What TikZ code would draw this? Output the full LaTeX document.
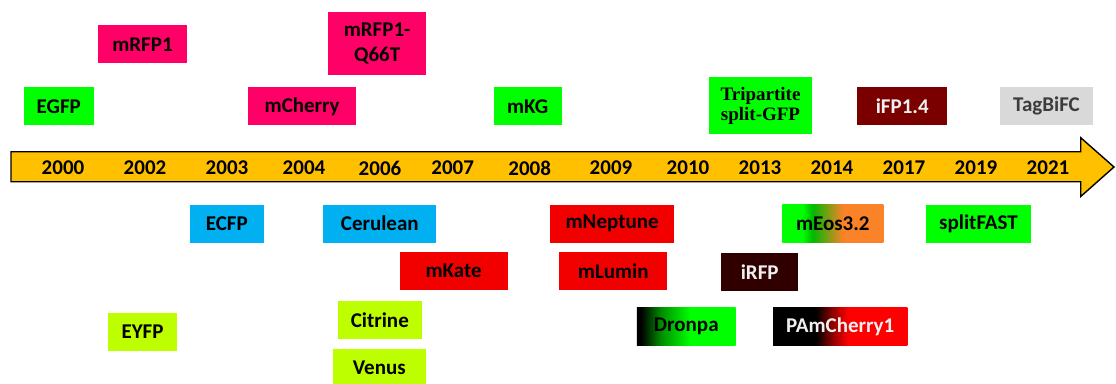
\documentclass[tikz,border=0pt]{standalone}
\usepackage{fontspec}
\setmainfont{Carlito}
\newfontfamily\timesf{Liberation Serif}
\definecolor{fpgreen}{RGB}{0,255,0}
\definecolor{fpdkgreen}{RGB}{0,185,0}
\definecolor{fpmidgreen}{RGB}{0,140,0}
\definecolor{fppink}{RGB}{255,0,102}
\definecolor{fpcyan}{RGB}{0,176,240}
\definecolor{fplime}{RGB}{190,255,0}
\definecolor{fpred}{RGB}{242,0,0}
\definecolor{fppurered}{RGB}{255,0,0}
\definecolor{fpdkred}{RGB}{140,0,0}
\definecolor{fpmaroon}{RGB}{122,0,0}
\definecolor{fpbrown}{RGB}{48,0,0}
\definecolor{fpgray}{RGB}{217,217,217}
\definecolor{fporange}{RGB}{250,130,40}
\definecolor{barorange}{RGB}{255,192,0}
\definecolor{lighttext}{RGB}{240,240,240}
\definecolor{darktext}{RGB}{60,60,60}
\pgfdeclarehorizontalshading{meosshade}{100bp}{color(0bp)=(fpgreen); color(25bp)=(fpgreen); color(35bp)=(fpgreen); color(40bp)=(fpdkgreen); color(55bp)=(fporange); color(100bp)=(fporange)}
\pgfdeclarehorizontalshading{dronpashade}{100bp}{color(0bp)=(black); color(25bp)=(black); color(27bp)=(black); color(37bp)=(fpmidgreen); color(52bp)=(fpgreen); color(100bp)=(fpgreen)}
\pgfdeclarehorizontalshading{pamshade}{100bp}{color(0bp)=(black); color(25bp)=(black); color(41bp)=(black); color(47bp)=(fpdkred); color(53bp)=(fppurered); color(100bp)=(fppurered)}
\tikzset{
  fp/.style={rectangle, inner sep=0pt, draw=none, text=black, align=center,
    font=\bfseries\fontsize{21}{25}\selectfont},
  year/.style={inner sep=0pt, text=black, font=\bfseries\fontsize{21}{24}\selectfont},
  timebar/.style={fill=barorange, draw=black, line width=1.4pt, line join=miter}
}
\begin{document}
\begin{tikzpicture}[x=1pt,y=-1pt]
\useasboundingbox (0,0) rectangle (1116,383);
% timeline arrow
\draw[timebar] (11,151.7) -- (1080.7,151.7) -- (1080.7,137.7) -- (1114,167) -- (1080.7,196.5) -- (1080.7,181.7) -- (11,181.7) -- cycle;
% years
\node[year] (y2000) at (63,168) {2000};
\node[year] (y2002) at (145,168) {2002};
\node[year] (y2003) at (227,168) {2003};
\node[year] (y2004) at (304,168) {2004};
\node[year] (y2006) at (380,168) {2006};
\node[year] (y2007) at (452.7,168) {2007};
\node[year] (y2008) at (529.7,168) {2008};
\node[year] (y2009) at (611,168) {2009};
\node[year] (y2010) at (688,168) {2010};
\node[year] (y2013) at (760,168) {2013};
\node[year] (y2014) at (832,168) {2014};
\node[year] (y2017) at (904,168) {2017};
\node[year] (y2019) at (976,168) {2019};
\node[year] (y2021) at (1048,168) {2021};
% upper boxes
\node[fp, fill=fpgreen, minimum width=69.7pt, minimum height=38pt] (egfp) at (58.8,106.3) {EGFP};
\node[fp, fill=fppink, minimum width=89.6pt, minimum height=38.3pt] (mrfp) at (142.5,44.2) {mRFP1};
\node[fp, fill=fppink, minimum width=107.7pt, minimum height=38pt] (mcherry) at (302.2,106.3) {mCherry};
\node[fp, fill=fppink, minimum width=97.7pt, minimum height=63.3pt] (q66t) at (377.2,43.3) {mRFP1-\\Q66T};
\node[fp, fill=fpgreen, minimum width=68pt, minimum height=38pt] (mkg) at (527.7,106.3) {mKG};
\node[fp, fill=fpgreen, minimum width=103.6pt, minimum height=57.6pt, font=\timesf\bfseries\fontsize{19}{20}\selectfont] (tri) at (760.5,105.5) {Tripartite\\split-GFP};
\node[fp, fill=fpmaroon, text=lighttext, minimum width=89.7pt, minimum height=38pt] (ifp) at (902.2,106.3) {iFP1.4};
\node[fp, fill=fpgray, text=darktext, minimum width=93pt, minimum height=38pt] (tag) at (1046.5,106.3) {TagBiFC};
% lower boxes
\node[fp, fill=fpcyan, minimum width=73.7pt, minimum height=38pt] (ecfp) at (226.8,223.7) {ECFP};
\node[fp, fill=fpcyan, minimum width=113pt, minimum height=38pt] (cerulean) at (379.8,223.7) {Cerulean};
\node[fp, fill=fpred, minimum width=123.7pt, minimum height=38pt] (mneptune) at (612.2,223.7) {mNeptune};
\node[fp, shading=meosshade, minimum width=101pt, minimum height=38pt] (meos) at (832.8,223.7) {mEos3.2};
\node[fp, fill=fpgreen, minimum width=105.6pt, minimum height=38pt] (splitfast) at (978.5,223.7) {splitFAST};
\node[fp, fill=fpred, minimum width=108pt, minimum height=37.7pt] (mkate) at (453.7,271.2) {mKate};
\node[fp, fill=fpred, minimum width=108pt, minimum height=37.7pt] (mlumin) at (613.3,271.2) {mLumin};
\node[fp, fill=fpbrown, text=lighttext, minimum width=76.7pt, minimum height=38pt] (irfp) at (759.7,272.3) {iRFP};
\node[fp, fill=fplime, minimum width=84.3pt, minimum height=38pt] (citrine) at (379.8,320) {Citrine};
\node[fp, fill=fplime, minimum width=68.4pt, minimum height=38pt] (eyfp) at (142.5,332) {EYFP};
\node[fp, shading=dronpashade, minimum width=98.7pt, minimum height=38pt] (dronpa) at (686.3,326.7) {Dronpa};
\node[fp, shading=pamshade, text=lighttext, minimum width=134.3pt, minimum height=38pt] (pam) at (840.2,326.7) {PAmCherry1};
\node[fp, fill=fplime, minimum width=93.3pt, minimum height=38pt] (venus) at (379.3,367.7) {Venus};
\end{tikzpicture}
\end{document}
